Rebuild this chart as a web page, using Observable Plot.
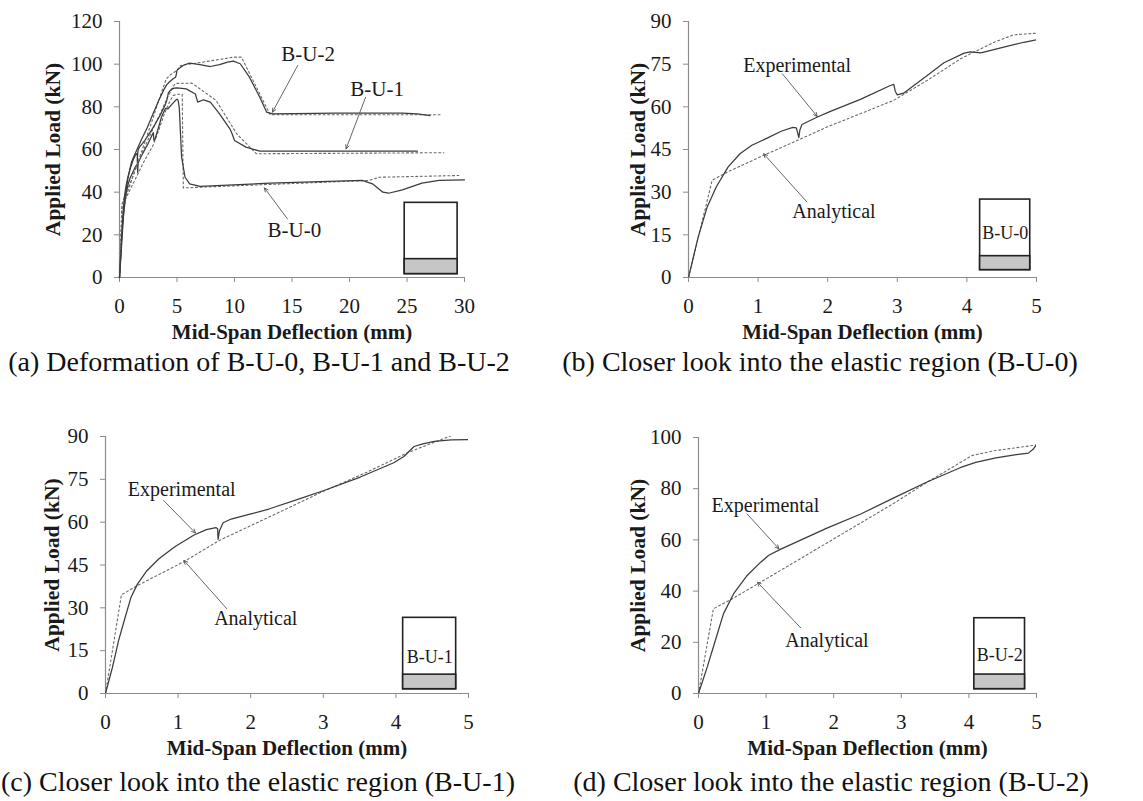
<!DOCTYPE html>
<html>
<head>
<meta charset="utf-8">
<script src="https://cdn.jsdelivr.net/npm/d3@7"></script>
<script src="https://cdn.jsdelivr.net/npm/@observablehq/plot@0.6"></script>
<style>
  body { margin: 0; background: #fff; }
  #fig { position: relative; width: 1143px; height: 801px; background: #fff; overflow: hidden;
         font-family: "Liberation Serif", "Times New Roman", serif; }
  .panel { position: absolute; }
  .cap { position: absolute; font-size: 28px; color: #111; white-space: nowrap; transform: translate(-50%, -50%); }
</style>
</head>
<body>
<div id="fig"></div>
<script>
// Load–deflection records, [deflection (mm), load (kN)]
const bu0Experimental = [[0,0],[0.14,14.3],[0.27,24.9],[0.4,31.9],[0.57,38.9],[0.74,43.5],[0.91,46.5],[1.13,49],[1.34,51.5],[1.5,52.8],[1.55,52.6],[1.585,49.2],[1.6,51.8],[1.63,53.8],[1.86,56.5],[2.03,58.3],[2.47,62.6],[2.9,67.5],[2.95,67.9],[2.97,65.5],[3.0,64.2],[3.09,64.8],[3.43,71],[3.67,75.5],[3.96,78.9],[4.05,79.3],[4.2,79],[4.53,81],[4.82,82.7],[5.0,83.6],[5.1,83],[5.2,79.5],[5.4,56.4],[5.7,47],[6.1,43.9],[7.0,42.7],[13.1,44.2],[21.1,45.5],[22.0,43.9],[22.9,40],[23.4,39.5],[24.6,41.1],[26.3,44.2],[27.8,45.5],[30,45.8]];
const bu0Analytical = [[0,0],[0.34,34.2],[0.56,37.1],[1.03,42.4],[1.51,47.6],[1.99,52.9],[2.47,57.6],[2.95,62.3],[3.43,69.3],[3.91,76.9],[4.39,82.7],[4.67,85.3],[5.0,85.9],[5.45,85.9],[5.55,42],[21.7,45.5],[22.6,47],[29.5,47.8]];
const bu1Experimental = [[0,0],[0.095,9.1],[0.18,18.5],[0.27,26.6],[0.35,33.6],[0.44,38.3],[0.57,43],[0.74,47.3],[0.96,51.5],[1.22,55.5],[1.39,57.4],[1.52,58.1],[1.545,57.7],[1.55,54],[1.57,57],[1.62,59.8],[1.73,61.1],[1.99,62.8],[2.25,64.6],[2.69,68.3],[3.01,71.1],[3.51,75.8],[3.97,80.8],[4.11,83],[4.25,86.5],[4.37,87.4],[4.53,88.3],[4.76,88.8],[5.0,88.9],[5.8,88.4],[6.6,86],[6.8,82.2],[7.3,83.3],[7.9,82.2],[8.7,76.7],[9.6,69.7],[9.8,67.3],[10.0,64.2],[11.0,61.1],[12.2,59.2],[15.9,59.2],[25.9,59.2]];
const bu1Analytical = [[0,0],[0.22,34.6],[0.44,37.8],[1.09,46.3],[1.56,53.5],[2.42,63.8],[3.0,70.8],[3.6,77.5],[4.16,84.3],[4.53,88],[4.75,90.2],[4.9,91],[6.3,91.1],[8.4,83],[10.2,67.3],[11.9,58],[28.2,58.5]];
const bu2Experimental = [[0,0],[0.13,10.4],[0.25,20.8],[0.37,31.2],[0.52,39],[0.72,46.1],[0.92,51.3],[1.04,54],[1.21,56.3],[1.9,64.6],[2.4,70.1],[2.89,76.4],[3.38,82.6],[3.88,88.3],[4.1,90.3],[4.4,92],[4.7,93.3],[4.88,93.9],[4.95,95.4],[5.0,97.2],[5.3,98.5],[5.6,99.6],[6.1,100.5],[7.0,99.8],[7.9,98.9],[8.7,99.8],[9.4,101],[9.9,101.4],[10.5,100.2],[11.3,93.9],[12.2,84.5],[12.8,77.5],[13.3,76.7],[18.8,77],[24.6,77],[25.9,76.7],[27.0,75.9]];
const bu2Analytical = [[0,0],[0.22,33.1],[0.5,37],[0.92,43.5],[1.9,58.8],[2.89,74.3],[3.38,82.5],[4.05,93],[4.37,94.8],[5.0,97.1],[5.3,99.4],[7.3,101],[9.9,103.3],[10.6,103.3],[13.1,76.3],[28.1,76.3]];

// Axis ticks
const xTicksFull = [0, 5, 10, 15, 20, 25, 30];
const xTicksElastic = [0, 1, 2, 3, 4, 5];
const yTicksA = [0, 20, 40, 60, 80, 100, 120];
const yTicks90 = [0, 15, 30, 45, 60, 75, 90];
const yTicks100 = [0, 20, 40, 60, 80, 100];

// Texts
const xTitle = "Mid-Span Deflection (mm)";
const yTitle = "Applied Load (kN)";
const captions = [
  "(a) Deformation of B-U-0, B-U-1 and B-U-2",
  "(b) Closer look into the elastic region (B-U-0)",
  "(c) Closer look into the elastic region (B-U-1)",
  "(d) Closer look into the elastic region (B-U-2)"
];

// Callouts (data coordinates): label position, leader start and arrow tip
const notesA = [
  {text: "B-U-2", x: 16.4, y: 104.8, ax: 15.5, ay: 99.4, bx: 13.3, by: 77.5},
  {text: "B-U-1", x: 22.4, y: 88.4, ax: 21.4, ay: 84.5, bx: 19.7, by: 60.3},
  {text: "B-U-0", x: 15.2, y: 22, ax: 14.6, ay: 27.5, bx: 12.6, by: 42}
];
const notesB = [
  {text: "Experimental", x: 1.56, y: 74.6, ax: 1.35, ay: 71.6, bx: 1.85, by: 56.6},
  {text: "Analytical", x: 2.09, y: 23, ax: 1.7, ay: 26.6, bx: 1.08, by: 43.5}
];
const notesC = [
  {text: "Experimental", x: 1.05, y: 71.3, ax: 0.8, ay: 67.6, bx: 1.24, by: 56.2},
  {text: "Analytical", x: 2.07, y: 26.2, ax: 1.67, ay: 29.7, bx: 1.08, by: 46.6}
];
const notesD = [
  {text: "Experimental", x: 0.99, y: 73.4, ax: 0.72, ay: 70.1, bx: 1.19, by: 56.5},
  {text: "Analytical", x: 1.9, y: 20.8, ax: 1.51, ay: 25.7, bx: 0.87, by: 43.5}
];

// Beam cross-section insets: outline, strengthened layer, specimen name
const sectionA = {x1: 24.8, x2: 29.4, y1: 1.6, y2: 35, layer: 8.6, name: ""};
const sectionB = {x1: 4.19, x2: 4.91, y1: 2.6, y2: 27.4, layer: 7.5, name: "B-U-0", ty: 15.4};
const sectionC = {x1: 4.10, x2: 4.83, y1: 1.5, y2: 26.5, layer: 6.6, name: "B-U-1", ty: 12.8};
const sectionD = {x1: 4.08, x2: 4.83, y1: 1.7, y2: 29.4, layer: 7.4, name: "B-U-2", ty: 14.9};

const SERIF = "Liberation Serif, Times New Roman, serif";
const AXIS = "#8c8c8c";
const INK = "#1a1a1a";

function curveMarks(series, clip) {
  const marks = [];
  for (const s of series) {
    marks.push(Plot.line(s.analytical, {x: d => d[0], y: d => d[1], stroke: "#6a6a6a", strokeWidth: 1.1, strokeDasharray: "2,2.6", clip}));
    marks.push(Plot.line(s.experimental, {x: d => d[0], y: d => d[1], stroke: "#3c3c3c", strokeWidth: 1.25, clip}));
  }
  return marks;
}

function drawPanel(cfg) {
  const sec = cfg.section;
  const marks = [
    Plot.ruleY([cfg.y[0]], {stroke: AXIS, strokeWidth: 1.2}),
    Plot.ruleX([cfg.x[0]], {stroke: AXIS, strokeWidth: 1.2}),
    Plot.axisX({ticks: cfg.xTicks, tickFormat: d => String(d), tickSize: 5, tickPadding: 16, stroke: AXIS, fill: INK, label: null, fontSize: 21, fontFamily: SERIF}),
    Plot.axisY({ticks: cfg.yTicks, tickFormat: d => String(d), tickSize: 5, tickPadding: 12, stroke: AXIS, fill: INK, label: null, fontSize: 21, fontFamily: SERIF}),
    ...curveMarks(cfg.series, cfg.clip),
    Plot.rect([sec], {x1: "x1", x2: "x2", y1: "y1", y2: "y2", fill: "white", stroke: "#222", strokeWidth: 1.6}),
    Plot.rect([sec], {x1: "x1", x2: "x2", y1: "y1", y2: "layer", fill: "#c6c6c6", stroke: "#222", strokeWidth: 1.6}),
    Plot.text(sec.name ? [sec] : [], {x: d => (d.x1 + d.x2) / 2, y: "ty", text: "name", fontSize: 18, fontFamily: SERIF, fill: INK}),
    Plot.arrow(cfg.notes, {x1: "ax", y1: "ay", x2: "bx", y2: "by", stroke: "#555", strokeWidth: 0.9, headLength: 7, headAngle: 50}),
    Plot.text(cfg.notes, {x: "x", y: "y", text: "text", fontSize: cfg.noteSize, fontFamily: SERIF, fill: INK}),
    Plot.text([xTitle], {text: d => d, frameAnchor: "bottom", lineAnchor: "middle", textAnchor: "middle", dy: 55, fontSize: 21, fontWeight: "bold", fontFamily: SERIF, fill: INK}),
    Plot.text([yTitle], {text: d => d, frameAnchor: "left", lineAnchor: "middle", textAnchor: "middle", dx: cfg.titleDx, rotate: -90, fontSize: 21.5, fontWeight: "bold", fontFamily: SERIF, fill: INK})
  ];
  const svg = Plot.plot({
    width: cfg.width, height: cfg.height,
    marginLeft: cfg.m[0], marginRight: cfg.m[1], marginTop: cfg.m[2], marginBottom: cfg.m[3],
    x: {domain: cfg.x, label: null},
    y: {domain: cfg.y, label: null},
    style: {fontFamily: SERIF, fontSize: "21px", background: "transparent", overflow: "visible", color: INK},
    marks
  });
  const holder = document.createElement("div");
  holder.className = "panel";
  holder.style.left = cfg.left + "px";
  holder.style.top = cfg.top + "px";
  holder.appendChild(svg);
  document.getElementById("fig").appendChild(holder);

  const cap = document.createElement("div");
  cap.className = "cap";
  cap.textContent = cfg.caption;
  cap.style.left = cfg.capX + "px";
  cap.style.top = cfg.capY + "px";
  document.getElementById("fig").appendChild(cap);
}

const spec0 = {experimental: bu0Experimental, analytical: bu0Analytical};
const spec1 = {experimental: bu1Experimental, analytical: bu1Analytical};
const spec2 = {experimental: bu2Experimental, analytical: bu2Analytical};

drawPanel({left: 0, top: 0, width: 560, height: 380, m: [119, 96, 21, 103],
  x: [0, 30], y: [0, 120], xTicks: xTicksFull, yTicks: yTicksA, clip: false,
  series: [spec0, spec1, spec2], notes: notesA, section: sectionA, titleDx: -66, noteSize: 21,
  caption: captions[0], capX: 259, capY: 362});

drawPanel({left: 560, top: 0, width: 583, height: 380, m: [128, 107, 21, 103],
  x: [0, 5], y: [0, 90], xTicks: xTicksElastic, yTicks: yTicks90, clip: true,
  series: [spec0], notes: notesB, section: sectionB, titleDx: -50, noteSize: 20,
  caption: captions[1], capX: 820, capY: 362});

drawPanel({left: 0, top: 390, width: 560, height: 411, m: [105, 92, 46, 108],
  x: [0, 5], y: [0, 90], xTicks: xTicksElastic, yTicks: yTicks90, clip: true,
  series: [spec1], notes: notesC, section: sectionC, titleDx: -53, noteSize: 20,
  caption: captions[2], capX: 258, capY: 782});

drawPanel({left: 560, top: 390, width: 583, height: 411, m: [138, 107, 47, 108],
  x: [0, 5], y: [0, 100], xTicks: xTicksElastic, yTicks: yTicks100, clip: true,
  series: [spec2], notes: notesD, section: sectionD, titleDx: -60, noteSize: 20,
  caption: captions[3], capX: 831, capY: 782});
</script>
</body>
</html>
